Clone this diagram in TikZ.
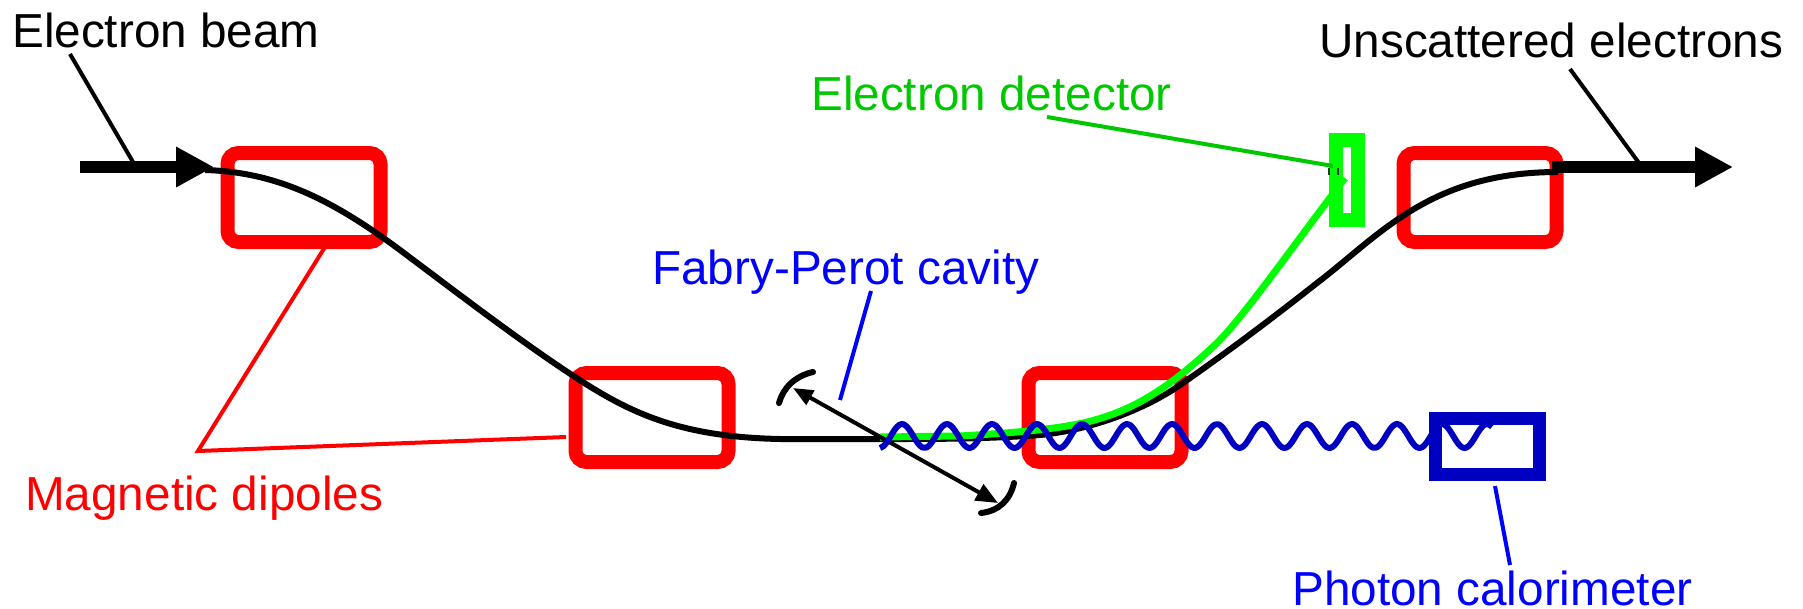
\documentclass[tikz,border=0pt]{standalone}
\usepackage{fontspec}
\setmainfont{Liberation Sans}
\usetikzlibrary{arrows.meta}
\definecolor{rd}{RGB}{255,0,0}
\definecolor{grn}{RGB}{0,255,0}
\definecolor{dgrn}{RGB}{0,200,0}
\definecolor{bl}{RGB}{0,0,255}
\definecolor{dbl}{RGB}{0,0,192}
\tikzset{
  lbl/.style={anchor=base west,inner sep=0pt,font=\fontsize{47.7}{50}\selectfont},
  dipole/.style={draw=rd,line width=14pt,rounded corners=11pt,minimum width=153pt,minimum height=89pt,inner sep=0pt},
  beam/.style={line width=6pt,black,line join=round},
  thickbeam/.style={line width=12.5pt,black,-{Triangle[length=38pt,width=38pt]}},
  leader/.style={line width=4pt},
  photon/.style={line width=6pt,dbl,line join=round}
}
\begin{document}
\begin{tikzpicture}[x=1pt,y=-1pt]
\useasboundingbox (0,0) rectangle (1803,608);
% dipoles
\node[dipole] (d1) at (304,197.5) {};
\node[dipole] (d2) at (652,417.5) {};
\node[dipole] (d3) at (1105,417.5) {};
\node[dipole] (d4) at (1480,197.5) {};
% detector and calorimeter
\node[draw=grn,line width=14pt,minimum width=22.5pt,minimum height=80pt,inner sep=0pt] (det) at (1347,180) {};
\node[draw=dbl,line width=13pt,minimum width=104pt,minimum height=56pt,inner sep=0pt] (cal) at (1487.5,446.5) {};
% coordinates
\coordinate (bs) at (80,167);
\coordinate (bt) at (214,167);
\coordinate (us) at (1552,167);
\coordinate (ut) at (1733,167);
% beam arrows
\draw[thickbeam] (bs) -- (bt);
\draw[thickbeam] (us) -- (ut);
% black curve
\draw[beam] (205,170) .. controls (275,172) and (330,198) .. (400,250)
  .. controls (460,295) and (520,341) .. (575,377)
  .. controls (630,413) and (680,437) .. (780,439)
  -- (900,439) .. controls (960,439) and (1000,438) .. (1040,435)
  .. controls (1090,430) and (1145,410) .. (1183,383)
  .. controls (1230,350) and (1270,320) .. (1317,283)
  .. controls (1380,235) and (1430,172) .. (1558,172);
% green curve
\draw[grn,line width=7pt] (880,437) -- (960,436) .. controls (1010,433) and (1050,430) .. (1083,423)
  .. controls (1130,412) and (1165,392) .. (1217,343)
  .. controls (1245,315) and (1290,250) .. (1345,178);
% mirrors
\draw[line width=6pt,line cap=round] (779,403) .. controls (783,388) and (795,376) .. (813,372);
\draw[line width=6pt,line cap=round] (981,513) .. controls (999,511) and (1010,500) .. (1014,483);
\coordinate (ml) at (793,388);
\coordinate (mr) at (998,503);
\draw[line width=4pt,{Triangle[length=20pt,width=16pt]}-{Triangle[length=22pt,width=18pt]}] (ml) -- (mr);
% ticks on the detector
\draw[line width=1.5pt,black!80] (1329,168) -- (1329,175) (1338,168) -- (1338,175);
% photon
\draw[photon] plot[smooth,domain=880:1492,samples=160] (\x,{436-12*cos((\x-902)*8)});
% labels
\node[lbl] (t1) at (12,47) {Electron beam};
\node[lbl] (t2) at (1319,57) {Unscattered electrons};
\node[lbl,text=dgrn] (t3) at (811,110) {Electron detector};
\node[lbl,text=bl] (t4) at (652,284) {Fabry-Perot cavity};
\node[lbl,text=rd] (t5) at (25,510) {Magnetic dipoles};
\node[lbl,text=bl] (t6) at (1292,605) {Photon calorimeter};
% leaders
\coordinate (l1a) at (70,54);\coordinate (l1b) at (133,162);
\draw[leader] (l1a) -- (l1b);
\coordinate (l2a) at (1570,69);\coordinate (l2b) at (1639,163);
\draw[leader] (l2a) -- (l2b);
\coordinate (l3a) at (1047,117);\coordinate (l3b) at (1333,166);
\draw[leader,dgrn] (l3a) -- (l3b);
\coordinate (l4a) at (871,291);\coordinate (l4b) at (840,400);
\draw[leader,bl] (l4a) -- (l4b);
\coordinate (l5a) at (325,247);\coordinate (l5b) at (198,451);\coordinate (l5c) at (566,437);
\draw[leader,rd] (l5a) -- (l5b) -- (l5c);
\coordinate (l6a) at (1495,486);\coordinate (l6b) at (1510,565);
\draw[leader,bl] (l6a) -- (l6b);
\end{tikzpicture}
\end{document}
